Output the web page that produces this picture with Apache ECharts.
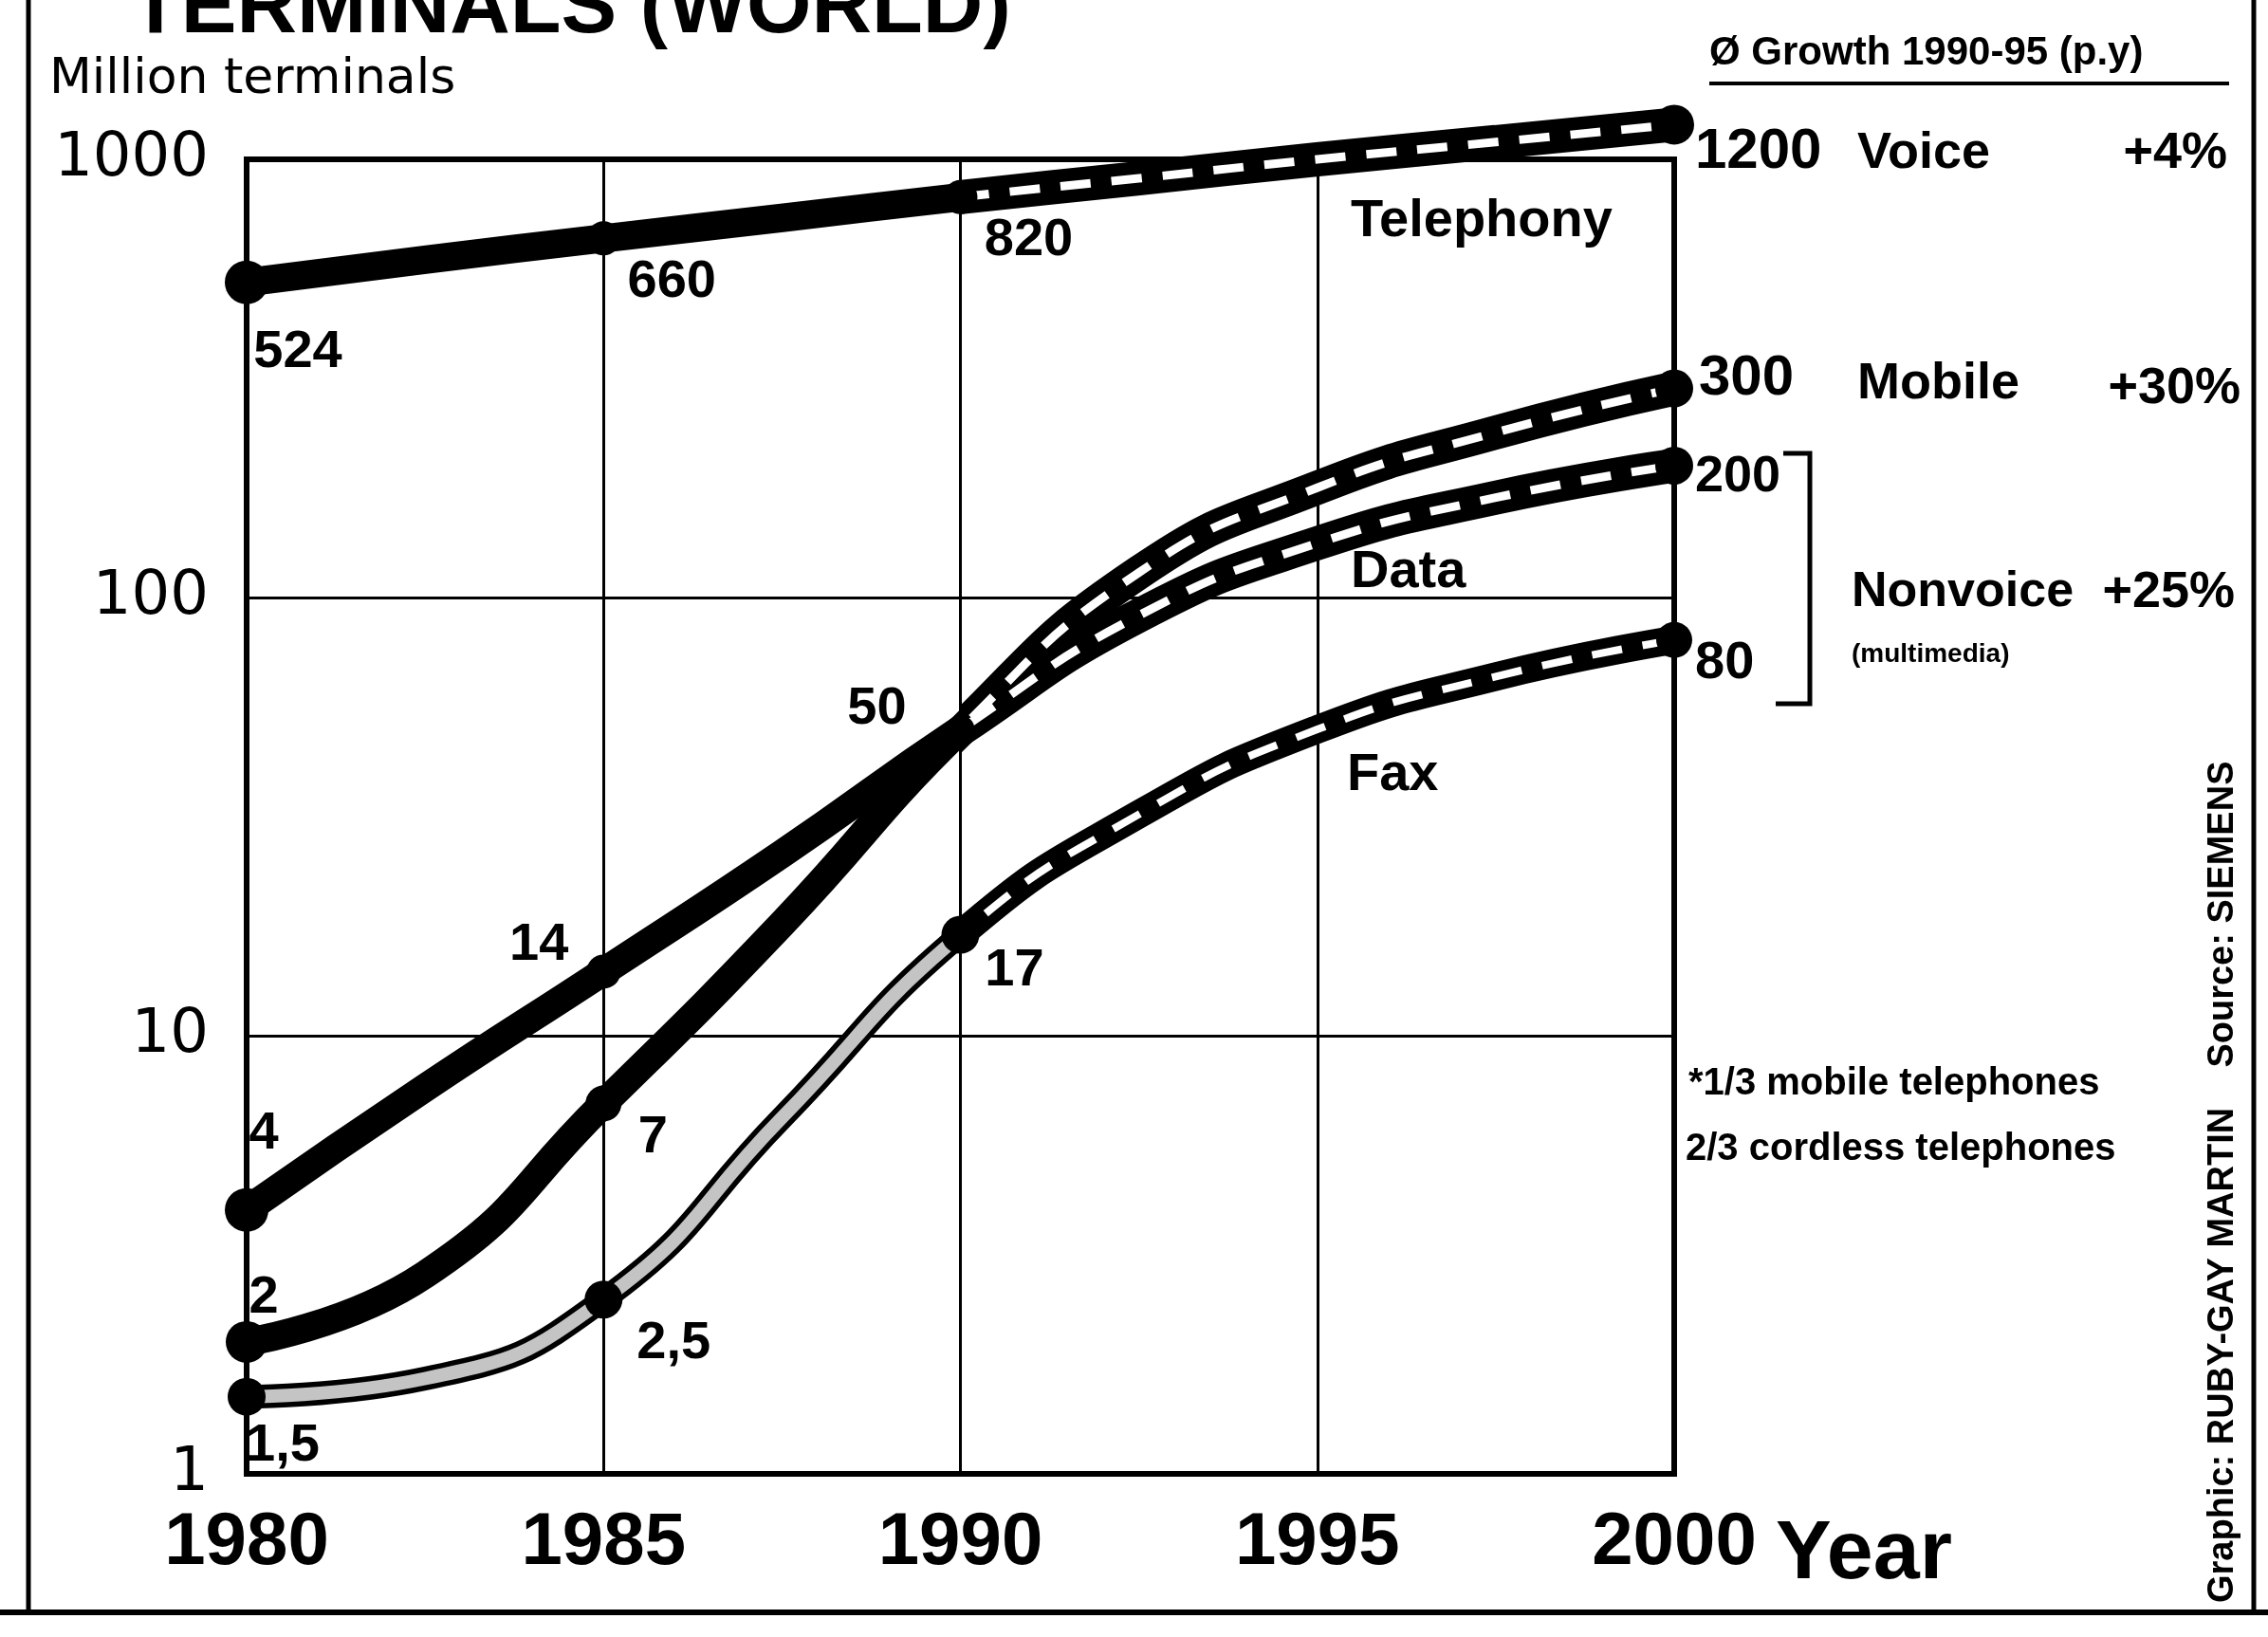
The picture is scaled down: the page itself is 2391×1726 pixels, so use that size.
<!DOCTYPE html>
<html>
<head>
<meta charset="utf-8">
<title>Terminals (World)</title>
<script src="https://cdn.jsdelivr.net/npm/echarts@6.0.0/dist/echarts.min.js"></script>
<style>
  html, body { margin: 0; padding: 0; background: #fff; }
  #chart { width: 2391px; height: 1726px; }
</style>
</head>
<body>
<div id="chart"></div>
<script>
// Years sampled along each curve (actual up to 1990, forecast after)
const years = [1980, 1982.5, 1985, 1987.5, 1990, 1992.5, 1995, 1997.5, 2000];
// Million terminals per category
const telephony = [524, 590, 660, 735, 820, 905, 1000, 1095, 1200];
const mobile    = [2, 2.85, 7, 18, 50, 114, 178, 238, 300];
const dataTerm  = [4, 7.6, 14, 26, 50, 91, 133, 169, 200];
const fax       = [1.5, 1.65, 2.5, 6.5, 17, 32, 50, 66, 80];
const forecastFrom = 1990;
// Axis ticks
const xTicks = [1980, 1985, 1990, 1995, 2000];
const yTicks = [1, 10, 100, 1000];
// Average growth 1990-95 per year
const growthVoice = '+4%';
const growthMobile = '+30%';
const growthNonvoice = '+25%';

const SANS = '"Liberation Sans", Arial, Helvetica, sans-serif';
const WIDE = '"DejaVu Sans", "Liberation Sans", sans-serif';
const W = 2391;

const chart = echarts.init(document.getElementById('chart'), null, { renderer: 'canvas' });

function fmt(p) { return String(p.value[1]).replace('.', ','); }

function curve(name, vals, width, z, color, dash) {
  return {
    type: 'line', name: name, clip: false, z: z, silent: true,
    smooth: 0.5, showSymbol: false, symbol: 'none',
    lineStyle: { color: color, width: width, type: dash || 'solid',
                 cap: dash ? 'butt' : 'round', join: 'round', opacity: 1 },
    emphasis: { disabled: true },
    data: vals.map(function (v, i) { return [years[i], v]; })
  };
}

// Marked points with their value labels:
// marks = {index: dotSize}, labels = {index: [dx, dy, align, fontSize]}
function dots(name, vals, marks, labels) {
  const out = [];
  Object.keys(marks).forEach(function (k) {
    const i = +k;
    const item = { value: [years[i], vals[i]], symbolSize: marks[k] };
    const l = labels[i];
    if (l) {
      item.label = {
        show: true, position: 'inside', formatter: fmt,
        offset: [l[0], l[1]],
        align: l[2] || 'center', verticalAlign: 'middle',
        color: '#000', fontFamily: SANS, fontWeight: 'bold', fontSize: l[3] || 56
      };
    }
    out.push(item);
  });
  return {
    type: 'scatter', name: name + ' points', clip: false, z: 5, silent: true,
    symbol: 'circle', itemStyle: { color: '#000', opacity: 1 },
    emphasis: { disabled: true },
    data: out
  };
}

const DASH = [32, 22];
const CLEAR = 'rgba(0,0,0,0)';
const series = [
  // black bands (actual part)
  curve('Telephony', telephony, 30, 2, '#000'),
  curve('Mobile', mobile, 30, 2, '#000'),
  curve('Data', dataTerm, 30, 2, '#000'),
  curve('Fax', fax, 25, 2, '#000'),
  // white dashes along the forecast part, light fill inside the actual fax band
  curve('Telephony forecast', telephony, 9, 4, CLEAR, DASH),
  curve('Mobile forecast', mobile, 9, 4, CLEAR, DASH),
  curve('Data forecast', dataTerm, 9, 4, CLEAR, DASH),
  curve('Fax forecast', fax, 8, 4, CLEAR, DASH),
  curve('Fax actual', fax, 14, 4, CLEAR),
  // dots and value labels
  dots('Telephony', telephony, { 0: 46, 2: 36, 4: 36, 8: 42 },
    { 0: [54, 74], 2: [72, 46], 4: [72, 46], 8: [22, 29, 'left', 60] }),
  dots('Mobile', mobile, { 0: 44, 2: 38, 8: 40 },
    { 0: [18, -46], 2: [52, 36], 8: [26, -10, 'left', 60] }),
  dots('Data', dataTerm, { 0: 46, 2: 36, 4: 30, 8: 40 },
    { 0: [18, -80], 2: [-68, -28], 4: [-88, -22], 8: [22, 12, 'left', 54] }),
  dots('Fax', fax, { 0: 40, 2: 40, 4: 40, 8: 38 },
    { 0: [38, 52], 2: [74, 46], 4: [57, 38], 8: [22, 25, 'left', 56] }),
  // wider black bands for the forecast part
  curve('Telephony forecast band', telephony, 36, 3, CLEAR),
  curve('Mobile forecast band', mobile, 36, 3, CLEAR),
  curve('Data forecast band', dataTerm, 36, 3, CLEAR),
  curve('Fax forecast band', fax, 30, 3, CLEAR)
];

function txt(text, x, y, size, opts) {
  opts = opts || {};
  return {
    type: 'text', x: x, y: y, rotation: opts.rotation || 0, z: 10,
    style: {
      text: text, fill: '#000',
      fontFamily: opts.family || SANS,
      fontWeight: opts.weight || 'bold',
      fontSize: size,
      textAlign: opts.align || 'left',
      textVerticalAlign: opts.valign || 'middle'
    }
  };
}
function seg(x1, y1, x2, y2, w) {
  return { type: 'line', z: 10, shape: { x1: x1, y1: y1, x2: x2, y2: y2 },
           style: { stroke: '#000', lineWidth: w } };
}

const graphics = [
  // outer frame
  seg(30, 0, 30, 1700, 5),
  seg(2376, 0, 2376, 1700, 5),
  seg(0, 1700, 2391, 1700, 6),
  // heading (top clipped by page edge)
  txt('TERMINALS (WORLD)', 137, 54, 88, { valign: 'bottom' }),
  txt('Million terminals', 52, 84, 52, { family: WIDE, weight: 'normal' }),
  // growth column
  txt('Ø Growth 1990-95 (p.y)', 1802, 56, 42),
  seg(1802, 88, 2350, 88, 4),
  txt('Voice', 1958, 162, 54),
  txt(growthVoice, 2348, 162, 54, { align: 'right' }),
  txt('Mobile', 1958, 405, 54),
  txt(growthMobile, 2362, 410, 54, { align: 'right' }),
  txt('Nonvoice', 1952, 625, 52),
  txt('(multimedia)', 1952, 690, 28),
  txt(growthNonvoice, 2356, 625, 54, { align: 'right' }),
  { type: 'polyline', z: 10, shape: { points: [[1880, 478], [1908, 478], [1908, 742], [1872, 742]] },
    style: { stroke: '#000', lineWidth: 5, fill: null } },
  // in-plot category names
  txt('Telephony', 1424, 234, 56),
  txt('Data', 1424, 604, 56),
  txt('Fax', 1420, 818, 56),
  // footnote
  txt('*1/3 mobile telephones', 1780, 1143, 40),
  txt('2/3 cordless telephones', 1777, 1212, 40),
  // axis title
  txt('Year', 1872, 1640, 88),
  // credit, reading bottom to top
  txt('Graphic: RUBY-GAY MARTIN    Source: SIEMENS', 2344, 1690, 38, { rotation: Math.PI / 2, valign: 'middle' })
];

const option = {
  backgroundColor: '#fff',
  animation: false,
  grid: { left: 260, right: 626, top: 168, bottom: 172, show: true,
          borderColor: '#000', borderWidth: 6, containLabel: false },
  xAxis: {
    type: 'value', min: xTicks[0], max: xTicks[xTicks.length - 1], interval: 5,
    axisLine: { show: true, lineStyle: { color: '#000', width: 6 } },
    axisTick: { show: false },
    splitLine: { show: true, lineStyle: { color: '#000', width: 3 } },
    axisLabel: { color: '#000', fontFamily: SANS, fontWeight: 'bold', fontSize: 78, margin: 34,
                 formatter: function (v) { return xTicks.indexOf(v) >= 0 ? String(v) : ''; } }
  },
  yAxis: {
    type: 'log', logBase: 10, min: yTicks[0], max: yTicks[yTicks.length - 1],
    axisLine: { show: true, lineStyle: { color: '#000', width: 6 } },
    axisTick: { show: false },
    minorTick: { show: false },
    splitLine: { show: true, lineStyle: { color: '#000', width: 3 } },
    axisLabel: { color: '#000', fontFamily: WIDE, fontSize: 64, margin: 40,
                 formatter: function (v) { return String(Math.round(v)); } }
  },
  series: series,
  graphic: graphics
};

chart.setOption(option);

// Split each curve at the forecast year: wide black band with white dashes after it,
// light fill inside the actual fax band before it.
const splitX = chart.convertToPixel({ xAxisIndex: 0 }, forecastFrom);
const f = Math.min(1, Math.max(0, splitX / W));
function stepGradient(before, after) {
  return { type: 'linear', x: 0, y: 0, x2: W, y2: 0, global: true,
           colorStops: [{ offset: 0, color: before }, { offset: f, color: before },
                        { offset: f, color: after }, { offset: 1, color: after }] };
}
const dashes = { lineStyle: { color: stepGradient(CLEAR, '#ffffff') } };
const band = { lineStyle: { color: stepGradient(CLEAR, '#000000') } };
chart.setOption({
  series: [
    {}, {}, {}, {},
    dashes, dashes, dashes, dashes,
    { lineStyle: { color: stepGradient('#c4c4c4', CLEAR) } },
    {}, {}, {}, {},
    band, band, band, band
  ]
});
</script>
</body>
</html>
